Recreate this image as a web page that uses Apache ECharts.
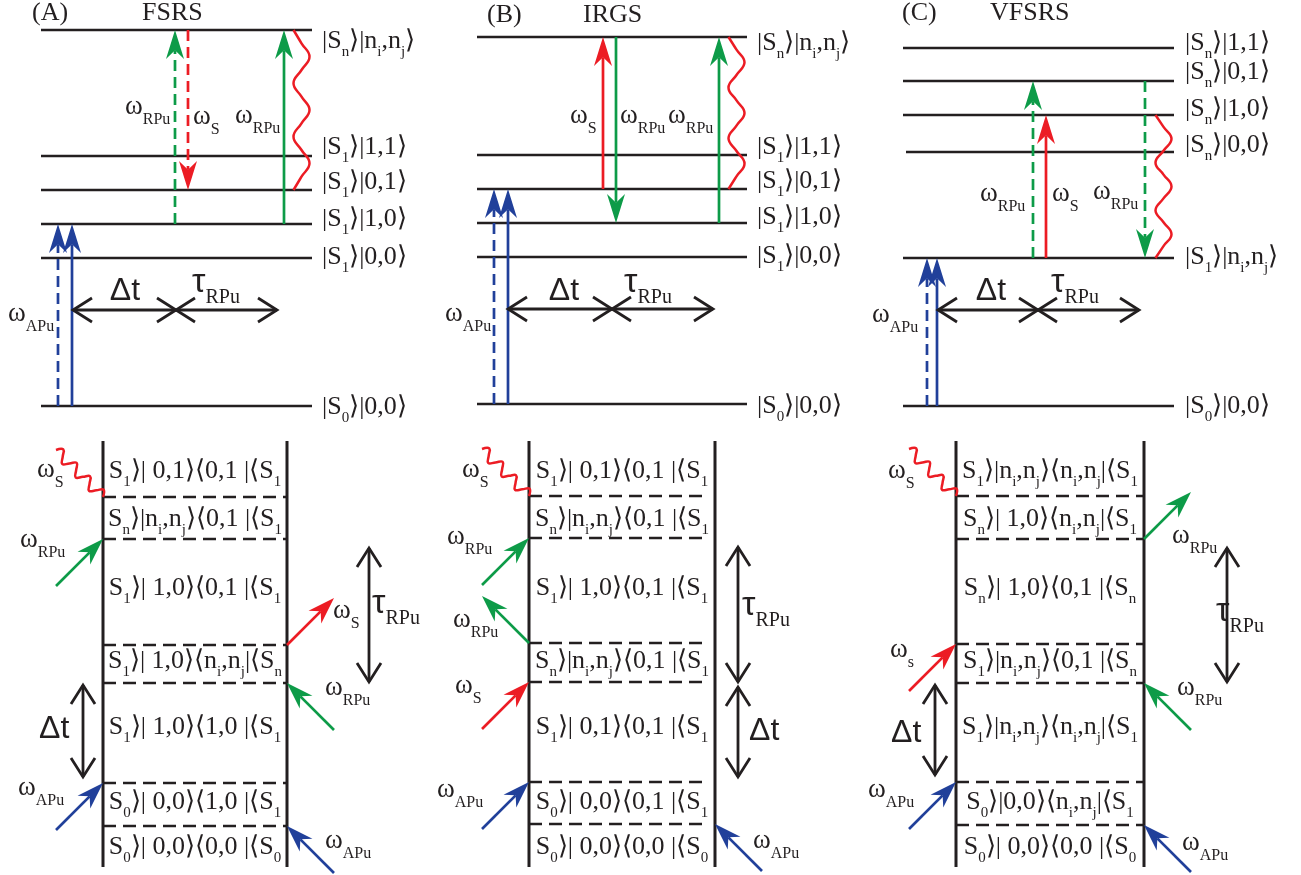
<!DOCTYPE html>
<html><head><meta charset="utf-8">
<script src="https://cdn.jsdelivr.net/npm/echarts@6/dist/echarts.min.js"></script>
<style>html,body{margin:0;padding:0;background:#fff}#c{width:1301px;height:875px}</style>
</head><body><div id="c"></div>
<script>
// ================= DATA =================
const panelTags = ['(A)', '(B)', '(C)'];
const panelTitles = ['FSRS', 'IRGS', 'VFSRS'];

// energy levels (vertical position of each level line) and state labels
const levelsA = [30, 156, 190, 224, 258, 406];
const levelsB = [37, 155, 189, 223, 257, 404];
const levelsC = [48, 81, 115, 152, 258, 406];
const statesA = ['|S_n⟩|n_i,n_j⟩', '|S_1⟩|1,1⟩', '|S_1⟩|0,1⟩', '|S_1⟩|1,0⟩', '|S_1⟩|0,0⟩', '|S_0⟩|0,0⟩'];
const statesB = ['|S_n⟩|n_i,n_j⟩', '|S_1⟩|1,1⟩', '|S_1⟩|0,1⟩', '|S_1⟩|1,0⟩', '|S_1⟩|0,0⟩', '|S_0⟩|0,0⟩'];
const statesC = ['|S_n⟩|1,1⟩', '|S_n⟩|0,1⟩', '|S_n⟩|1,0⟩', '|S_n⟩|0,0⟩', '|S_1⟩|n_i,n_j⟩', '|S_0⟩|0,0⟩'];

// transitions: [from level, to level, pulse, style]
const transA = [[5, 3, 'APu', 'dash'], [5, 3, 'APu', 'solid'], [3, 0, 'RPu', 'dash'], [0, 2, 'S', 'dash'], [3, 0, 'RPu', 'solid'], [0, 2, 'S', 'wave']];
const transB = [[5, 2, 'APu', 'dash'], [5, 2, 'APu', 'solid'], [2, 0, 'S', 'solid'], [0, 3, 'RPu', 'solid'], [3, 0, 'RPu', 'solid'], [0, 2, 'S', 'wave']];
const transC = [[5, 4, 'APu', 'dash'], [5, 4, 'APu', 'solid'], [4, 1, 'RPu', 'dash'], [4, 2, 'S', 'solid'], [1, 4, 'RPu', 'dash'], [2, 4, 'S', 'wave']];
const topPulseLabelsA = ['ω_{RPu}', 'ω_S', 'ω_{RPu}', 'ω_{APu}'];
const topPulseLabelsB = ['ω_S', 'ω_{RPu}', 'ω_{RPu}', 'ω_{APu}'];
const topPulseLabelsC = ['ω_{RPu}', 'ω_S', 'ω_{RPu}', 'ω_{APu}'];

// double-sided Feynman pathways (top row = latest)
const pathA = ['S_1⟩| 0,1⟩⟨0,1 |⟨S_1', 'S_n⟩|n_i,n_j⟩⟨0,1 |⟨S_1', 'S_1⟩| 1,0⟩⟨0,1 |⟨S_1', 'S_1⟩| 1,0⟩⟨n_i,n_j|⟨S_n', 'S_1⟩| 1,0⟩⟨1,0 |⟨S_1', 'S_0⟩| 0,0⟩⟨1,0 |⟨S_1', 'S_0⟩| 0,0⟩⟨0,0 |⟨S_0'];
const pathB = ['S_1⟩| 0,1⟩⟨0,1 |⟨S_1', 'S_n⟩|n_i,n_j⟩⟨0,1 |⟨S_1', 'S_1⟩| 1,0⟩⟨0,1 |⟨S_1', 'S_n⟩|n_i,n_j⟩⟨0,1 |⟨S_1', 'S_1⟩| 0,1⟩⟨0,1 |⟨S_1', 'S_0⟩| 0,0⟩⟨0,1 |⟨S_1', 'S_0⟩| 0,0⟩⟨0,0 |⟨S_0'];
const pathC = ['S_1⟩|n_i,n_j⟩⟨n_i,n_j|⟨S_1', 'S_n⟩| 1,0⟩⟨n_i,n_j|⟨S_1', 'S_n⟩| 1,0⟩⟨0,1 |⟨S_n', 'S_1⟩|n_i,n_j⟩⟨0,1 |⟨S_n', 'S_1⟩|n_i,n_j⟩⟨n_i,n_j|⟨S_1', 'S_0⟩|0,0⟩⟨n_i,n_j|⟨S_1', 'S_0⟩| 0,0⟩⟨0,0 |⟨S_0'];
// interactions: [side, boundary index, pulse, kind]
const interA = [['L', 0, 'S', 'wave'], ['L', 1, 'RPu', 'in'], ['R', 2, 'S', 'out'], ['R', 3, 'RPu', 'in'], ['L', 4, 'APu', 'in'], ['R', 5, 'APu', 'in']];
const interB = [['L', 0, 'S', 'wave'], ['L', 1, 'RPu', 'in'], ['L', 2, 'RPu', 'out'], ['L', 3, 'S', 'in'], ['L', 4, 'APu', 'in'], ['R', 5, 'APu', 'in']];
const interC = [['L', 0, 'S', 'wave'], ['R', 1, 'RPu', 'out'], ['L', 2, 'S', 'in'], ['R', 3, 'RPu', 'in'], ['L', 4, 'APu', 'in'], ['R', 5, 'APu', 'in']];
const botPulseLabelsA = ['ω_S', 'ω_{RPu}', 'ω_{APu}', 'ω_S', 'ω_{RPu}', 'ω_{APu}'];
const botPulseLabelsB = ['ω_S', 'ω_{RPu}', 'ω_{RPu}', 'ω_S', 'ω_{APu}', 'ω_{APu}'];
const botPulseLabelsC = ['ω_S', 'ω_s', 'ω_{APu}', 'ω_{RPu}', 'ω_{RPu}', 'ω_{APu}'];
const delayLabels = ['Δt', 'τ_{RPu}'];

// ================= LAYOUT & STYLE =================
const BLACK = '#231f20', GREEN = '#0d9b48', RED = '#ec1c24', BLUE = '#21409a';
const pulseColor = { APu: BLUE, RPu: GREEN, S: RED };
const SERIF = '"Liberation Serif","Times New Roman",serif';
const SANS = '"Liberation Sans",Arial,sans-serif';

const L = {
  tagPos: [[32, 13], [487, 15], [902, 13]],
  titlePos: [[142, 13], [583, 15], [990, 13]],
  levelX: [[41, 312], [477, 747], [903, 1174]],
  stateX: [322, 757, 1185],
  stateY: [[41, 147, 182, 219, 257, 407], [43, 147, 181, 217, 256, 406], [43, 72, 109, 145, 257, 406]],
  transX: [[58, 72, 175, 188, 284, 301.5], [494, 508, 603, 616, 719, 736.5], [927, 937, 1033, 1046, 1145, 1163.5]],
  topLabelPos: [[[125, 107], [193, 117], [235, 116], [8, 314]], [[570, 116], [620, 116], [668, 116], [445, 314]], [[980, 194], [1052, 194], [1093, 192], [872, 315]]],
  delayY: [310, 309, 310],
  delayX: [[73, 176, 277], [508, 612, 713], [938, 1038, 1139]],
  dtLabel: [[125, 291], [564, 291], [991, 291]],
  tauLabel: [[192, 283], [624, 283], [1051, 283]],
  // bottom
  vLines: [[103, 287], [529, 715], [956, 1144]],
  vTop: 441, vBot: 867,
  dashY: [[497, 539, 645, 683, 783, 826], [496, 538, 643, 682, 782, 824], [496, 539, 644, 683, 782, 825]],
  dashXEnd: [287, 702, 1143],
  rowY: [471, 519, 588, 661, 727, 802, 847],
  botLabelPos: [[[37, 470], [20, 540], [18, 788], [333, 611], [325, 688], [325, 841]],
                [[462, 470], [447, 537], [453, 620], [455, 686], [437, 790], [753, 841]],
                [[888, 471], [890, 650], [868, 790], [1172, 536], [1177, 688], [1182, 843]]],
  tauV: [[369, 548, 682], [738, 547, 682], [1227, 548, 682]],
  dtV: [[83, 685, 777], [738, 687, 777], [935, 685, 775]],
  tauVLabel: [[372, 604], [742, 606], [1216, 612]],
  dtVLabel: [[39, 729], [749, 731], [891, 733]],
  diag: 47
};

// ================= PRIMITIVES =================
const prims = [];
const seg = (x1, y1, x2, y2, color, lw, dash) => prims.push({ k: 'seg', x1, y1, x2, y2, color, lw, dash });
const arrow = (x1, y1, x2, y2, color, dash, hl, hw) => prims.push({ k: 'arrow', x1, y1, x2, y2, color, dash, hl: hl || 27, hw: hw || 17 });
const dbl = (x1, y1, x2, y2) => prims.push({ k: 'dbl', x1, y1, x2, y2 });
const wave = (x1, y1, x2, y2, quarters, amp, startPattern) => prims.push({ k: 'wave', x1, y1, x2, y2, quarters, amp, startPattern });
const txt = (str, x, y, preset, align) => prims.push({ k: 'txt', str, x, y, preset, align: align || 'left' });

const levels = [levelsA, levelsB, levelsC];
const states = [statesA, statesB, statesC];
const trans = [transA, transB, transC];
const topLbl = [topPulseLabelsA, topPulseLabelsB, topPulseLabelsC];
const paths = [pathA, pathB, pathC];
const inters = [interA, interB, interC];
const botLbl = [botPulseLabelsA, botPulseLabelsB, botPulseLabelsC];

for (let p = 0; p < 3; p++) {
  txt(panelTags[p], L.tagPos[p][0], L.tagPos[p][1], 'title');
  txt(panelTitles[p], L.titlePos[p][0], L.titlePos[p][1], 'title');
  const lv = levels[p];
  lv.forEach((y, i) => {
    seg(L.levelX[p][0] + (p === 2 && i === 3 ? 3 : 0), y, L.levelX[p][1], y, BLACK, 2.6);
    txt(states[p][i], L.stateX[p], L.stateY[p][i], 'ket');
  });
  trans[p].forEach((t, i) => {
    const x = L.transX[p][i];
    const y1 = lv[t[0]], y2 = lv[t[1]];
    const col = pulseColor[t[2]];
    if (t[3] === 'wave') wave(x, y1, x, y2, 12, 8, -1);
    else arrow(x, y1, x, y2, col, t[3] === 'dash', 29, 18);
  });
  topLbl[p].forEach((s, i) => txt(s, L.topLabelPos[p][i][0], L.topLabelPos[p][i][1], 'omega'));
  const dx = L.delayX[p], dy = L.delayY[p];
  dbl(dx[0], dy, dx[1], dy);
  dbl(dx[1], dy, dx[2], dy);
  txt(delayLabels[0], L.dtLabel[p][0], L.dtLabel[p][1], 'dt', 'center');
  txt(delayLabels[1], L.tauLabel[p][0], L.tauLabel[p][1], 'tau');

  // ---- bottom pathway ----
  const [xl, xr] = L.vLines[p];
  seg(xl, L.vTop, xl, L.vBot, BLACK, 3);
  seg(xr, L.vTop, xr, L.vBot, BLACK, 3);
  L.dashY[p].forEach(y => seg(xl, y, L.dashXEnd[p], y, BLACK, 2.4, [13, 7]));
  paths[p].forEach((s, i) => txt(s, (xl + xr) / 2, L.rowY[i], 'ket', 'center'));
  const D = L.diag;
  inters[p].forEach(it => {
    const y = L.dashY[p][it[1]];
    const x = it[0] === 'L' ? xl : xr;
    const sx = it[0] === 'L' ? -1 : 1;
    const col = pulseColor[it[2]];
    if (it[3] === 'wave') wave(x, y, x + sx * D, y - D, 14, 5.5, 0);
    else if (it[3] === 'in') arrow(x + sx * D, y + D, x, y, col, false, 27, 18);
    else arrow(x, y, x + sx * D, y - D, col, false, 27, 18);
  });
  botLbl[p].forEach((s, i) => txt(s, L.botLabelPos[p][i][0], L.botLabelPos[p][i][1], 'omega'));
  dbl(L.tauV[p][0], L.tauV[p][1], L.tauV[p][0], L.tauV[p][2]);
  dbl(L.dtV[p][0], L.dtV[p][1], L.dtV[p][0], L.dtV[p][2]);
  txt(delayLabels[1], L.tauVLabel[p][0], L.tauVLabel[p][1], 'tau');
  txt(delayLabels[0], L.dtVLabel[p][0], L.dtVLabel[p][1], 'dt');
}

// ================= TEXT PRESETS =================
function toRich(str, m, s) {
  let out = '', buf = '';
  for (let i = 0; i < str.length; i++) {
    const c = str[i];
    if (c === '_') {
      let sub;
      if (str[i + 1] === '{') { const j = str.indexOf('}', i + 2); sub = str.slice(i + 2, j); i = j; }
      else { sub = str[i + 1]; i++; }
      if (buf) { out += '{' + m + '|' + buf + '}'; buf = ''; }
      out += '{' + s + '|' + sub + '}';
    } else buf += c;
  }
  if (buf) out += '{' + m + '|' + buf + '}';
  return out;
}
const presets = {
  title: { m: { font: '26px ' + SERIF, fill: BLACK, lineHeight: 30 }, s: { font: '15px ' + SERIF, fill: BLACK } },
  ket: { m: { font: '26px ' + SERIF, fill: BLACK, lineHeight: 38 }, s: { font: '15px ' + SERIF, fill: BLACK, verticalAlign: 'bottom' } },
  omega: { m: { font: '27px ' + SERIF, fill: BLACK, lineHeight: 42 }, s: { font: '16px ' + SERIF, fill: BLACK, verticalAlign: 'bottom' } },
  dt: { m: { font: '32px ' + SANS, fill: BLACK, lineHeight: 36 }, s: { font: '16px ' + SERIF, fill: BLACK } },
  tau: { m: { font: '34px ' + SANS, fill: BLACK, lineHeight: 50 }, s: { font: '20px ' + SERIF, fill: BLACK, verticalAlign: 'bottom' } }
};

// ================= RENDER =================
function renderItem(params, api) {
  const p = prims[params.dataIndex];
  const c = (x, y) => api.coord([x, y]);
  if (p.k === 'seg') {
    const a = c(p.x1, p.y1), b = c(p.x2, p.y2);
    return { type: 'line', shape: { x1: a[0], y1: a[1], x2: b[0], y2: b[1] },
      style: { stroke: p.color, lineWidth: p.lw, lineDash: p.dash || null, lineCap: 'butt' } };
  }
  if (p.k === 'arrow') {
    const a = c(p.x1, p.y1), b = c(p.x2, p.y2);
    const dx = b[0] - a[0], dy = b[1] - a[1], len = Math.hypot(dx, dy);
    const ux = dx / len, uy = dy / len, nx = -uy, ny = ux;
    const notch = p.hl * 0.7;
    const se = [b[0] - ux * notch, b[1] - uy * notch];
    const base = [b[0] - ux * p.hl, b[1] - uy * p.hl];
    return { type: 'group', children: [
      { type: 'line', shape: { x1: a[0], y1: a[1], x2: se[0], y2: se[1] },
        style: { stroke: p.color, lineWidth: 2.7, lineDash: p.dash ? [11, 6] : null } },
      { type: 'polygon', shape: { points: [b, [base[0] + nx * p.hw / 2, base[1] + ny * p.hw / 2], se, [base[0] - nx * p.hw / 2, base[1] - ny * p.hw / 2]] },
        style: { fill: p.color } }
    ] };
  }
  if (p.k === 'dbl') {
    const a = c(p.x1, p.y1), b = c(p.x2, p.y2);
    const dx = b[0] - a[0], dy = b[1] - a[1], len = Math.hypot(dx, dy);
    const ux = dx / len, uy = dy / len, nx = -uy, ny = ux;
    const hl = 19, hw = 12;
    const chev = (t, s) => [[t[0] + s * ux * hl + nx * hw, t[1] + s * uy * hl + ny * hw], t, [t[0] + s * ux * hl - nx * hw, t[1] + s * uy * hl - ny * hw]];
    const st = { stroke: BLACK, lineWidth: 2.8, fill: null, lineJoin: 'miter' };
    return { type: 'group', children: [
      { type: 'line', shape: { x1: a[0], y1: a[1], x2: b[0], y2: b[1] }, style: st },
      { type: 'polyline', shape: { points: chev(a, 1) }, style: st },
      { type: 'polyline', shape: { points: chev(b, -1) }, style: st }
    ] };
  }
  if (p.k === 'wave') {
    const a = c(p.x1, p.y1), b = c(p.x2, p.y2);
    const dx = b[0] - a[0], dy = b[1] - a[1], len = Math.hypot(dx, dy);
    const ux = dx / len, uy = dy / len, nx = -uy, ny = ux;
    const patt = p.startPattern === 0 ? [0, 1, 0, -1] : [1, 0, -1, 0];
    const pts = [];
    for (let k = 0; k <= p.quarters; k++) {
      const o = patt[k % 4] * p.amp * (p.startPattern === 0 ? 1 : -p.startPattern);
      const f = k / p.quarters * len;
      pts.push([a[0] + ux * f + nx * o, a[1] + uy * f + ny * o]);
    }
    return { type: 'polyline', shape: { points: pts, smooth: 0.45 }, style: { stroke: RED, lineWidth: 2.5, fill: null } };
  }
  if (p.k === 'txt') {
    const a = c(p.x, p.y);
    const pr = presets[p.preset];
    return { type: 'text', x: a[0], y: a[1], style: {
      text: toRich(p.str, 'm', 's'), rich: pr, fill: BLACK, font: pr.m.font,
      align: p.align, verticalAlign: 'middle' } };
  }
  return null;
}

const chart = echarts.init(document.getElementById('c'), null, { renderer: 'canvas', width: 1301, height: 875 });
chart.setOption({
  animation: false,
  backgroundColor: '#ffffff',
  grid: { left: 0, right: 0, top: 0, bottom: 0, containLabel: false },
  xAxis: { type: 'value', min: 0, max: 1301, show: false },
  yAxis: { type: 'value', min: 0, max: 875, inverse: true, show: false },
  series: [{
    type: 'custom',
    renderItem: renderItem,
    clip: false,
    data: prims.map(p => [p.x1 !== undefined ? p.x1 : p.x, p.y1 !== undefined ? p.y1 : p.y])
  }]
});
</script></body></html>
